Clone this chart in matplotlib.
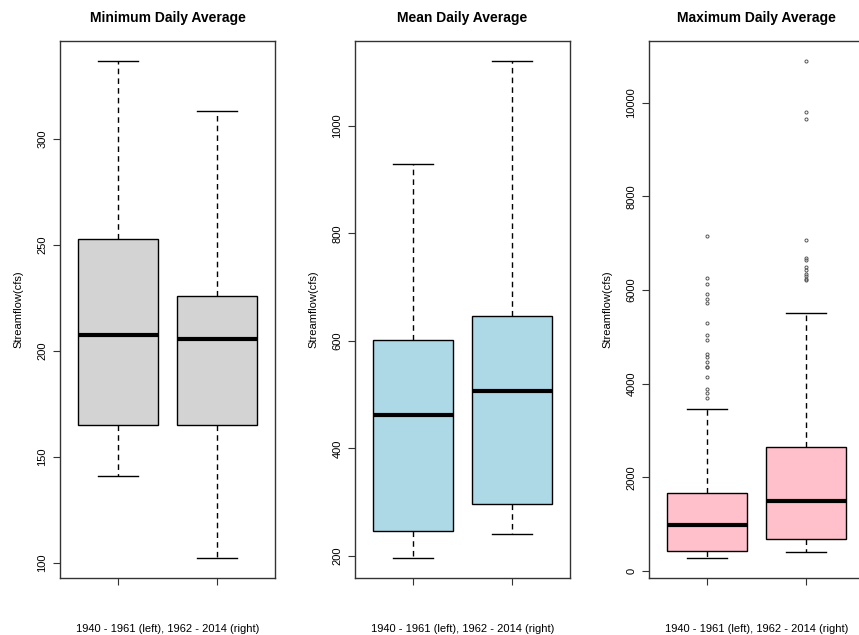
import matplotlib.pyplot as plt
import numpy as np

plt.rcParams['font.family'] = ['Liberation Sans', 'DejaVu Sans']

# five-number summaries (lower whisker, Q1, median, Q3, upper whisker), cfs
min_early = [141, 165, 207.5, 253, 336.8]
min_late = [102.4, 165, 205.7, 226, 313.2]
mean_early = [196, 247, 463, 601, 929]
mean_late = [241, 297, 506, 647, 1121]
max_early = [278, 427, 983, 1667, 3462]
max_late = [406, 677, 1489, 2643, 5519]

# outlying years for the maximum daily average
max_early_out = [7143, 6267, 6132, 5919, 5818, 5720, 5299, 5043, 4936,
                 4630, 4580, 4473, 4366, 4360, 4153, 3882, 3797, 3690]
max_late_out = [10891, 9801, 9652, 7073, 6674, 6631, 6489, 6432, 6340,
                6289, 6232, 6215]

titles = ['Minimum Daily Average', 'Mean Daily Average', 'Maximum Daily Average']
fills = ['#D3D3D3', '#ADD8E6', '#FFC0CB']
yticks = [[100, 150, 200, 250, 300],
          [200, 400, 600, 800, 1000],
          [0, 2000, 4000, 6000, 8000, 10000]]
xlabel = '1940 - 1961 (left), 1962 - 2014 (right)'


def five_num(v, fliers=()):
    return dict(whislo=v[0], q1=v[1], med=v[2], q3=v[3], whishi=v[4],
                fliers=list(fliers))


groups = [
    [five_num(min_early), five_num(min_late)],
    [five_num(mean_early), five_num(mean_late)],
    [five_num(max_early, max_early_out), five_num(max_late, max_late_out)],
]

fig = plt.figure(figsize=(8.59, 6.35), dpi=100)
lefts = [60 / 859, 355 / 859, 649 / 859]
w, b, h = 215 / 859, 57 / 635, 537 / 635

for i in range(3):
    ax = fig.add_axes([lefts[i], b, w, h])
    st = groups[i]
    ax.bxp(st, positions=[1, 2], widths=0.8, capwidths=0.4, patch_artist=True,
           boxprops=dict(facecolor=fills[i], edgecolor='black', lw=1),
           whiskerprops=dict(color='black', lw=1, ls=(0, (4, 3))),
           capprops=dict(color='black', lw=1),
           medianprops=dict(color='black', lw=3, solid_capstyle='butt'),
           flierprops=dict(marker='o', ms=2.2, mfc='none', mec='#555555', mew=0.7))

    # R-style axis range: data extremes padded by 4%
    vals = []
    for s in st:
        vals += [s['whislo'], s['whishi']] + s['fliers']
    lo, hi = min(vals), max(vals)
    pad = 0.04 * (hi - lo)
    ax.set_ylim(lo - pad, hi + pad)
    ax.set_xlim(0.42, 2.58)

    ax.set_xticks([1, 2])
    ax.set_xticklabels([])
    ax.set_yticks(yticks[i])
    ax.set_yticklabels([str(t) for t in yticks[i]], rotation=90, va='center')
    ax.tick_params(length=5, width=0.8, labelsize=8, pad=4, color='#333333')
    for sp in ax.spines.values():
        sp.set_color('#333333')
        sp.set_linewidth(1)

    ax.set_title(titles[i], fontsize=10, fontweight='bold', pad=14)
    ax.set_ylabel('Streamflow(cfs)', fontsize=8)
    ax.yaxis.set_label_coords(-0.172, 0.5)
    ax.set_xlabel(xlabel, fontsize=8, labelpad=24)

fig.savefig('out.png', dpi=100)
